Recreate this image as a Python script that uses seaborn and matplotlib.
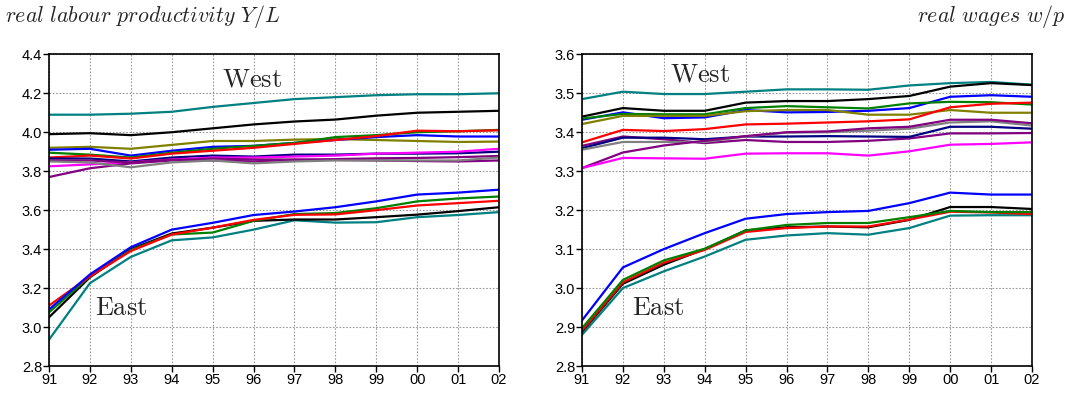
import numpy as np
import pandas as pd
import matplotlib
matplotlib.use("Agg")
import matplotlib.pyplot as plt
import seaborn as sns

years = ["91", "92", "93", "94", "95", "96", "97", "98", "99", "00", "01", "02"]

# left panel: real labour productivity Y/L (West regions)
prod_west = {
    "teal":    [4.09, 4.09, 4.095, 4.105, 4.13, 4.15, 4.17, 4.18, 4.19, 4.195, 4.195, 4.20],
    "black":   [3.99, 3.995, 3.985, 4.0, 4.02, 4.04, 4.055, 4.065, 4.085, 4.10, 4.105, 4.11],
    "olive":   [3.92, 3.925, 3.915, 3.935, 3.955, 3.955, 3.962, 3.965, 3.96, 3.955, 3.95, 3.952],
    "blue":    [3.91, 3.915, 3.88, 3.905, 3.925, 3.93, 3.945, 3.96, 3.975, 3.985, 3.978, 3.978],
    "green":   [3.895, 3.885, 3.87, 3.895, 3.915, 3.93, 3.945, 3.975, 3.985, 4.0, 4.005, 4.012],
    "red":     [3.87, 3.88, 3.865, 3.89, 3.905, 3.92, 3.94, 3.96, 3.98, 4.008, 4.005, 4.01],
    "navy":    [3.865, 3.865, 3.85, 3.87, 3.88, 3.875, 3.885, 3.885, 3.89, 3.89, 3.892, 3.90],
    "magenta": [3.825, 3.835, 3.845, 3.86, 3.87, 3.87, 3.875, 3.88, 3.89, 3.895, 3.90, 3.915],
    "purple":  [3.77, 3.815, 3.84, 3.855, 3.865, 3.86, 3.86, 3.858, 3.855, 3.852, 3.85, 3.855],
    "purple2": [3.855, 3.855, 3.845, 3.86, 3.855, 3.85, 3.858, 3.862, 3.866, 3.868, 3.872, 3.878],
    "gray":    [3.85, 3.845, 3.82, 3.845, 3.855, 3.84, 3.85, 3.855, 3.855, 3.855, 3.855, 3.87],
}
# left panel: East regions
prod_east = {
    "e_teal":  [2.935, 3.225, 3.36, 3.445, 3.46, 3.50, 3.548, 3.536, 3.538, 3.564, 3.575, 3.59],
    "e_black": [3.05, 3.255, 3.40, 3.48, 3.51, 3.545, 3.552, 3.552, 3.564, 3.577, 3.595, 3.615],
    "e_green": [3.075, 3.26, 3.395, 3.475, 3.485, 3.545, 3.58, 3.585, 3.61, 3.645, 3.66, 3.67],
    "e_red":   [3.11, 3.26, 3.39, 3.475, 3.51, 3.55, 3.576, 3.578, 3.60, 3.624, 3.636, 3.648],
    "e_blue":  [3.09, 3.27, 3.41, 3.50, 3.535, 3.575, 3.593, 3.615, 3.645, 3.68, 3.69, 3.705],
}

# right panel: real wages w/p (West regions)
wage_west = {
    "teal":    [3.485, 3.504, 3.498, 3.498, 3.504, 3.51, 3.51, 3.509, 3.52, 3.526, 3.529, 3.522],
    "black":   [3.44, 3.462, 3.455, 3.455, 3.476, 3.48, 3.48, 3.485, 3.493, 3.517, 3.526, 3.521],
    "blue":    [3.432, 3.451, 3.436, 3.438, 3.457, 3.451, 3.452, 3.455, 3.462, 3.491, 3.495, 3.491],
    "green":   [3.435, 3.447, 3.446, 3.446, 3.462, 3.467, 3.464, 3.461, 3.474, 3.478, 3.477, 3.471],
    "olive":   [3.421, 3.442, 3.442, 3.442, 3.454, 3.457, 3.457, 3.445, 3.445, 3.457, 3.45, 3.45],
    "red":     [3.374, 3.406, 3.403, 3.408, 3.42, 3.422, 3.425, 3.428, 3.433, 3.464, 3.473, 3.476],
    "purple":  [3.365, 3.389, 3.382, 3.372, 3.38, 3.375, 3.375, 3.378, 3.384, 3.397, 3.397, 3.398],
    "navy":    [3.359, 3.386, 3.386, 3.382, 3.389, 3.389, 3.39, 3.389, 3.388, 3.414, 3.414, 3.409],
    "gray":    [3.355, 3.375, 3.375, 3.375, 3.389, 3.399, 3.40, 3.404, 3.409, 3.425, 3.428, 3.417],
    "purple2": [3.308, 3.348, 3.366, 3.378, 3.39, 3.40, 3.402, 3.41, 3.414, 3.432, 3.432, 3.423],
    "magenta": [3.308, 3.334, 3.333, 3.332, 3.345, 3.346, 3.346, 3.34, 3.351, 3.368, 3.37, 3.374],
}
# right panel: East regions
wage_east = {
    "e_teal":  [2.88, 3.0, 3.043, 3.081, 3.124, 3.135, 3.141, 3.137, 3.154, 3.186, 3.187, 3.187],
    "e_black": [2.888, 3.011, 3.06, 3.10, 3.148, 3.156, 3.158, 3.156, 3.175, 3.208, 3.208, 3.203],
    "e_red":   [2.891, 3.015, 3.065, 3.098, 3.144, 3.154, 3.158, 3.158, 3.176, 3.196, 3.194, 3.19],
    "e_green": [2.897, 3.021, 3.071, 3.101, 3.148, 3.162, 3.167, 3.167, 3.182, 3.198, 3.195, 3.195],
    "e_blue":  [2.917, 3.053, 3.10, 3.141, 3.178, 3.19, 3.195, 3.198, 3.218, 3.245, 3.24, 3.24],
}

colors = {
    "teal": "#008080", "black": "#000000", "olive": "#808000", "blue": "#0000ff",
    "green": "#008000", "red": "#ff0000", "navy": "#000080", "magenta": "#ff00ff",
    "purple": "#800080", "purple2": "#800080", "gray": "#808080",
}
palette = dict(colors)
for k in list(colors):
    palette["e_" + k] = colors[k]


def to_long(*groups):
    rows = []
    for g in groups:
        for name, vals in g.items():
            for i, v in enumerate(vals):
                rows.append({"series": name, "t": i, "value": v})
    return pd.DataFrame(rows)


sns.set_style("white")
plt.rcParams["font.family"] = ["Liberation Sans", "DejaVu Sans"]
plt.rcParams["mathtext.fontset"] = "cm"

fig = plt.figure(figsize=(10.7, 3.96), dpi=100)
ax1 = fig.add_axes([49 / 1070, 1 - 366 / 396, 450 / 1070, (366 - 54.3) / 396])
ax2 = fig.add_axes([582 / 1070, 1 - 366 / 396, 450 / 1070, (366 - 54.3) / 396])

panels = [
    (ax1, to_long(prod_west, prod_east), (2.8, 4.4), np.arange(2.8, 4.41, 0.2), (4.23, 4.272), (1.12, 3.10)),
    (ax2, to_long(wage_west, wage_east), (2.8, 3.6), np.arange(2.8, 3.61, 0.1), (2.15, 3.547), (1.22, 2.95)),
]

for ax, df, ylim, yt, west_xy, east_xy in panels:
    sns.lineplot(data=df, x="t", y="value", hue="series", palette=palette,
                 legend=False, linewidth=1.6, ax=ax, sort=False)
    ax.set_xlim(0, len(years) - 1)
    ax.set_ylim(*ylim)
    ax.set_xticks(range(len(years)))
    ax.set_xticklabels(years)
    ax.set_yticks(yt)
    ax.set_yticklabels([f"{v:.1f}" for v in yt])
    ax.set_xlabel("")
    ax.set_ylabel("")
    ax.grid(True, color="#999999", linestyle=(0, (1.5, 1.5)), linewidth=0.8)
    ax.set_axisbelow(True)
    for s in ax.spines.values():
        s.set_color("black")
        s.set_linewidth(1.2)
    ax.tick_params(axis="both", direction="out", length=4, width=1, labelsize=10.5,
                   colors="black", pad=1, left=True, bottom=True)
    ax.text(west_xy[0], west_xy[1], r"$\mathrm{West}$", fontsize=19, va="center", ha="left")
    ax.text(east_xy[0], east_xy[1], r"$\mathrm{East}$", fontsize=19, va="center", ha="left")

fig.text(5 / 1070, 1 - 22 / 396, r"$\mathit{real\ labour\ productivity}\ Y/L$",
         fontsize=15.8, ha="left", va="baseline")
fig.text(1066 / 1070, 1 - 22 / 396, r"$\mathit{real\ wages}\ w/p$",
         fontsize=15.8, ha="right", va="baseline")

fig.savefig("out.png", dpi=100)
